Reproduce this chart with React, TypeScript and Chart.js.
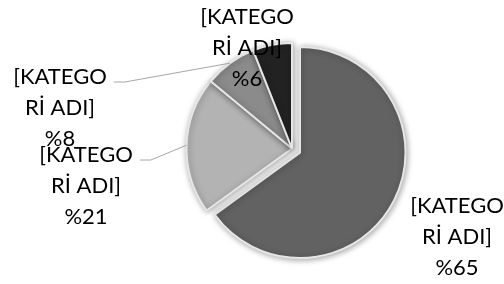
import React, { useEffect, useRef } from "react";
import { Chart, registerables } from "chart.js";

Chart.register(...registerables);

const categories = ["[KATEGORİ ADI]", "[KATEGORİ ADI]", "[KATEGORİ ADI]", "[KATEGORİ ADI]"];
const values = [65, 21, 8, 6];
const colors = ["#626262", "#b3b3b3", "#8b8b8b", "#222222"];
const explode = [9, 0, 0, 0];
// label block centre (middle line), relative to the pie centre, in px
const labelDX = [165, -206, -232, -45];
const labelDY = [88.5, 37.5, -40.5, -100.5];
const leaderLine = [false, true, true, false];

const FONT = "22px Lato";
const LINE_H = 31;

function wrap(s: string, n: number): string[] {
  const out: string[] = [];
  for (let i = 0; i < s.length; i += n) out.push(s.slice(i, i + n));
  return out;
}

const pieDecor = {
  id: "pieDecor",
  afterDatasetsUpdate(chart: any) {
    const meta = chart.getDatasetMeta(0);
    meta.data.forEach((arc: any, i: number) => {
      const ex = explode[i] || 0;
      if (!ex) return;
      const mid = (arc.startAngle + arc.endAngle) / 2;
      arc.x += Math.cos(mid) * ex;
      arc.y += Math.sin(mid) * ex;
    });
  },
  beforeDatasetsDraw(chart: any) {
    const ctx = chart.ctx;
    ctx.save();
    ctx.shadowColor = "rgba(0,0,0,0.35)";
    ctx.shadowBlur = 6;
    ctx.shadowOffsetX = 1;
    ctx.shadowOffsetY = 1;
  },
  afterDatasetsDraw(chart: any) {
    const ctx = chart.ctx;
    ctx.restore();
    const meta = chart.getDatasetMeta(0);
    const ca = chart.chartArea;
    const cx = (ca.left + ca.right) / 2;
    const cy = (ca.top + ca.bottom) / 2;
    ctx.save();
    ctx.font = FONT;
    ctx.textAlign = "center";
    ctx.textBaseline = "middle";
    meta.data.forEach((arc: any, i: number) => {
      const lines = [...wrap(categories[i], 7), "%" + values[i]];
      const lx = cx + labelDX[i];
      const ly = cy + labelDY[i];
      const top = ly - ((lines.length - 1) / 2) * LINE_H;
      if (leaderLine[i]) {
        const w = Math.max(...lines.map((l) => ctx.measureText(l).width));
        const mid = (arc.startAngle + arc.endAngle) / 2;
        const sx = arc.x + Math.cos(mid) * arc.outerRadius;
        const sy = arc.y + Math.sin(mid) * arc.outerRadius;
        const ex = lx + w / 2 + 7;
        const ey = top + 5;
        ctx.beginPath();
        ctx.strokeStyle = "#a6a6a6";
        ctx.lineWidth = 1;
        ctx.moveTo(sx, sy);
        ctx.lineTo(ex + 11, ey);
        ctx.lineTo(ex, ey);
        ctx.stroke();
      }
      ctx.fillStyle = "#000000";
      lines.forEach((l, k) => ctx.fillText(l, lx, top + k * LINE_H));
    });
    ctx.restore();
  },
};

export default function App() {
  const ref = useRef<HTMLCanvasElement>(null);
  useEffect(() => {
    if (!ref.current) return;
    const chart = new Chart(ref.current, {
      type: "pie",
      data: {
        labels: categories,
        datasets: [
          {
            data: values,
            backgroundColor: colors,
            borderColor: "#e6e6e6",
            borderWidth: 2,
            hoverBorderWidth: 2,
            hoverOffset: 0,
          },
        ],
      },
      options: {
        responsive: false,
        maintainAspectRatio: false,
        animation: false,
        events: [],
        layout: { padding: { left: 80, right: 0, top: 42, bottom: 29 } },
        plugins: { legend: { display: false }, tooltip: { enabled: false } },
      },
      plugins: [pieDecor],
    });
    return () => chart.destroy();
  }, []);
  return (
    <div style={{ position: "fixed", left: 0, top: 0, width: 504, height: 284, background: "#fff" }}>
      <canvas ref={ref} width={504} height={284} />
    </div>
  );
}
